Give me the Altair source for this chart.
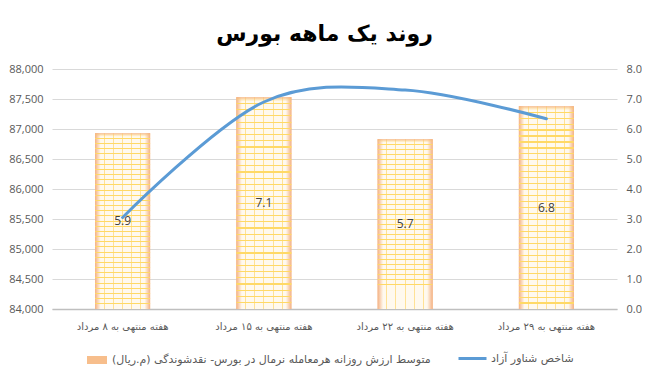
import altair as alt
import pandas as pd

weeks = ["هفته منتهی به ۸ مرداد", "هفته منتهی به ۱۵ مرداد",
         "هفته منتهی به ۲۲ مرداد", "هفته منتهی به ۲۹ مرداد"]
avg_value = [86930, 87530, 86830, 87380]
float_index = [3.05, 6.9, 7.3, 6.34]
bar_labels = ["5.9", "7.1", "5.7", "6.8"]
left_ticks = [84000, 84500, 85000, 85500, 86000, 86500, 87000, 87500, 88000]
right_ticks = [0, 1, 2, 3, 4, 5, 6, 7, 8]
bar_series = "متوسط ارزش روزانه هرمعامله نرمال در بورس- نقدشوندگی (م.ریال)\u200f"
line_series = "شاخص شناور آزاد"
title_text = "روند یک ماهه بورس"

df = pd.DataFrame({
    "week": weeks, "value": avg_value, "idx": float_index,
    "label": bar_labels, "bs": [bar_series] * 4, "ls": [line_series] * 4,
})

FA = "DejaVu Sans"
NUM = "Open Sans"
GRAY = "#595959"

x = alt.X("week:N", sort=None, title=None,
          scale=alt.Scale(paddingInner=0, paddingOuter=0),
          axis=alt.Axis(labelAngle=0, ticks=False, domainColor="#BFBFBF", domainWidth=1.5,
                        labelFont=FA, labelFontSize=10, labelColor=GRAY, labelPadding=12))

yscale = alt.Scale(domain=[84000, 88000], zero=False, nice=False)
left_axis = alt.Axis(orient="left", values=left_ticks, format=",d", grid=True,
                     gridColor="#D9D9D9", ticks=False, domain=False, labelOverlap=False,
                     labelFont=NUM, labelFontSize=11, labelColor=GRAY, labelPadding=9)
yleft = alt.Y("value:Q", scale=yscale, title=None, axis=left_axis)

edge_grad = alt.Gradient(
    gradient="linear", x1=0, x2=1, y1=0, y2=0,
    stops=[alt.GradientStop(offset=0, color="#F4B183"),
           alt.GradientStop(offset=0.1, color="#FFF9EE"),
           alt.GradientStop(offset=0.9, color="#FFF9EE"),
           alt.GradientStop(offset=1, color="#F4B183")])

clear = "rgba(255,217,102,0)"
yellow = "#FFD966"
soft = "rgba(255,210,90,0.6)"

rows = 34
hstops = [alt.GradientStop(offset=0, color="rgba(244,177,131,0.9)"),
          alt.GradientStop(offset=0.02, color=clear)]
for i in range(1, rows):
    o = i / rows
    hstops += [alt.GradientStop(offset=o - 0.0028, color=clear),
               alt.GradientStop(offset=o - 0.0028, color=yellow),
               alt.GradientStop(offset=o + 0.0028, color=yellow),
               alt.GradientStop(offset=o + 0.0028, color=clear)]
hstripe = alt.Gradient(gradient="linear", x1=0, x2=0, y1=0, y2=1, stops=hstops)

cols = 6
vstops = [alt.GradientStop(offset=0, color=clear)]
for i in range(1, cols):
    o = i / cols
    vstops += [alt.GradientStop(offset=o - 0.009, color=clear),
               alt.GradientStop(offset=o - 0.009, color=soft),
               alt.GradientStop(offset=o + 0.009, color=soft),
               alt.GradientStop(offset=o + 0.009, color=clear)]
vstops.append(alt.GradientStop(offset=1, color=clear))
vstripe = alt.Gradient(gradient="linear", x1=0, x2=1, y1=0, y2=0, stops=vstops)

base = alt.Chart(df)

bar_legend = base.mark_bar(size=55).encode(
    x=x, y=yleft, y2=alt.datum(84000),
    fill=alt.Fill("bs:N", scale=alt.Scale(range=["#F7BE8C"]),
                  legend=alt.Legend(orient="none", legendX=35, legendY=281, title=None,
                                    symbolType="M-1,-0.4H1V0.4H-1Z", symbolSize=400,
                                    symbolStrokeWidth=0, labelOffset=5, padding=0,
                                    labelFont=FA, labelFontSize=11, labelColor=GRAY,
                                    labelLimit=500)))
bar_edge = base.mark_bar(size=55, fill=edge_grad).encode(x=x, y=yleft, y2=alt.datum(84000))
bar_v = base.mark_bar(size=55, fill=vstripe).encode(x=x, y=yleft, y2=alt.datum(84000))
bar_h = base.mark_bar(size=55, fill=hstripe).encode(x=x, y=yleft, y2=alt.datum(84000))
labels = base.transform_calculate(mid="(datum.value + 84000) / 2").mark_text(
    font=NUM, fontSize=12, color="#404040", baseline="middle").encode(
    x=x, y=alt.Y("mid:Q", scale=yscale, title=None, axis=left_axis), text="label:N")

left_layer = alt.layer(bar_legend, bar_edge, bar_v, bar_h, labels)

line = base.mark_line(interpolate="cardinal", strokeWidth=3, strokeCap="round").encode(
    x=x,
    y=alt.Y("idx:Q", title=None, scale=alt.Scale(domain=[0, 8], nice=False),
            axis=alt.Axis(orient="right", values=right_ticks, format=".1f", grid=False,
                          ticks=False, domain=False, labelOverlap=False, labelFont=NUM,
                          labelFontSize=11, labelColor=GRAY, labelPadding=9)),
    stroke=alt.Stroke("ls:N", scale=alt.Scale(range=["#5B9BD5"]),
                      legend=alt.Legend(orient="none", legendX=405, legendY=274, title=None,
                                        symbolType="stroke", symbolSize=784,
                                        symbolStrokeWidth=3, labelOffset=3, padding=0,
                                        labelFont=FA, labelFontSize=11, labelColor=GRAY)))

chart = alt.layer(left_layer, line).resolve_scale(y="independent").properties(
    width=565, height=240,
    autosize=alt.AutoSizeParams(type="none"),
    padding={"left": 44, "top": 61, "right": 25, "bottom": 63},
    title=alt.TitleParams(text=title_text, font=FA, fontSize=22, fontWeight="bold",
                          color="black", anchor="middle", dx=-10, offset=18, dy=18,
                          baseline="alphabetic"),
).configure_view(stroke=None)

chart.save("out.html", embed_options={"renderer": "svg", "actions": False})
